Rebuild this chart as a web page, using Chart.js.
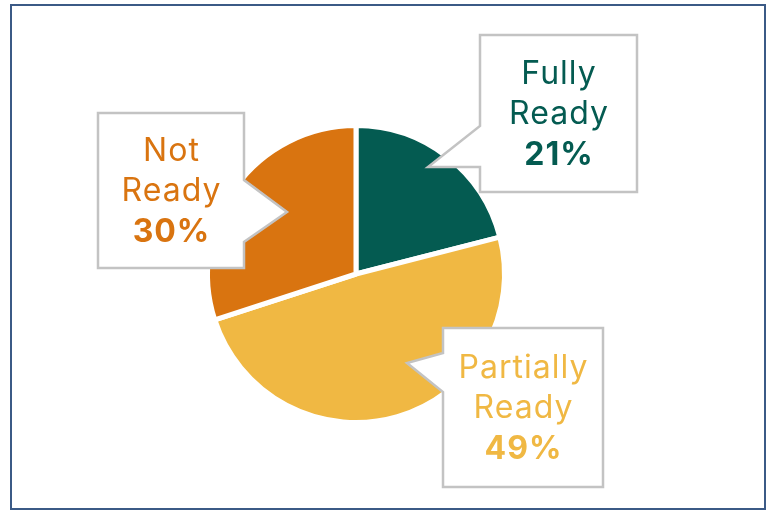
<!DOCTYPE html>
<html>
<head>
<meta charset="utf-8">
<script src="https://cdn.jsdelivr.net/npm/chart.js@4/dist/chart.umd.min.js"></script>
<style>
  html, body { margin: 0; padding: 0; background: #ffffff; }
  #wrap { width: 771px; height: 512px; position: relative; }
</style>
</head>
<body>
<div id="wrap"><canvas id="c" width="771" height="512"></canvas></div>
<script>
// Readiness breakdown
const categories = ['Fully Ready', 'Partially Ready', 'Not Ready'];
const labelLines = [['Fully', 'Ready'], ['Partially', 'Ready'], ['Not', 'Ready']];
const values = [21, 49, 30];
const sliceColors = ['#045b51', '#f0b843', '#d97410'];

// Callout boxes: box rectangle plus a pointer notch on one side
const callouts = [
  { x: 480, y: 35,  w: 157, h: 157, side: 'left',  p1: 126, p2: 167, tip: [428, 167] },
  { x: 443, y: 328, w: 160, h: 159, side: 'left',  p1: 353, p2: 392, tip: [407, 363] },
  { x: 98,  y: 113, w: 146, h: 155, side: 'right', p1: 180, p2: 242, tip: [287, 212] }
];

const FONT = 'Inter, "Open Sans", sans-serif';

function spacedText(ctx, text, x, y, spacing) {
  // centre text that carries extra letter spacing
  ctx.letterSpacing = spacing + 'px';
  ctx.fillText(text, x + spacing / 2, y);
  ctx.letterSpacing = '0px';
}

const decorPlugin = {
  id: 'decor',
  beforeDraw(chart) {
    const ctx = chart.ctx;
    ctx.save();
    ctx.fillStyle = '#ffffff';
    ctx.fillRect(0, 0, chart.width, chart.height);
    ctx.restore();
  },
  afterDraw(chart) {
    const ctx = chart.ctx;
    ctx.save();
    // frame
    ctx.strokeStyle = '#3b5a86';
    ctx.lineWidth = 2;
    ctx.strokeRect(11, 5, 754, 504);

    const ds = chart.data.datasets[0];
    callouts.forEach((c, i) => {
      ctx.beginPath();
      if (c.side === 'left') {
        ctx.moveTo(c.x, c.y);
        ctx.lineTo(c.x + c.w, c.y);
        ctx.lineTo(c.x + c.w, c.y + c.h);
        ctx.lineTo(c.x, c.y + c.h);
        ctx.lineTo(c.x, c.p2);
        ctx.lineTo(c.tip[0], c.tip[1]);
        ctx.lineTo(c.x, c.p1);
      } else {
        const r = c.x + c.w;
        ctx.moveTo(c.x, c.y);
        ctx.lineTo(r, c.y);
        ctx.lineTo(r, c.p1);
        ctx.lineTo(c.tip[0], c.tip[1]);
        ctx.lineTo(r, c.p2);
        ctx.lineTo(r, c.y + c.h);
        ctx.lineTo(c.x, c.y + c.h);
      }
      ctx.closePath();
      ctx.fillStyle = '#ffffff';
      ctx.fill();
      ctx.strokeStyle = '#c3c3c3';
      ctx.lineWidth = 2.5;
      ctx.lineJoin = 'miter';
      ctx.stroke();

      const cx = c.x + c.w / 2;
      const cy = c.y + c.h / 2;
      ctx.fillStyle = ds.backgroundColor[i];
      ctx.textAlign = 'center';
      ctx.textBaseline = 'middle';
      ctx.font = '400 32px ' + FONT;
      spacedText(ctx, labelLines[i][0], cx, cy - 39, 1);
      spacedText(ctx, labelLines[i][1], cx, cy + 1, 1);
      ctx.font = '700 32px ' + FONT;
      spacedText(ctx, ds.data[i] + '%', cx, cy + 42, 1);
    });
    ctx.restore();
  }
};

new Chart(document.getElementById('c'), {
  type: 'pie',
  data: {
    labels: categories,
    datasets: [{
      data: values,
      backgroundColor: sliceColors,
      borderColor: '#ffffff',
      borderWidth: 5,
      hoverOffset: 0
    }]
  },
  options: {
    responsive: false,
    animation: false,
    events: [],
    layout: { padding: { left: 205, top: 123, right: 264, bottom: 87 } },
    plugins: {
      legend: { display: false },
      tooltip: { enabled: false }
    }
  },
  plugins: [decorPlugin]
});
</script>
</body>
</html>
